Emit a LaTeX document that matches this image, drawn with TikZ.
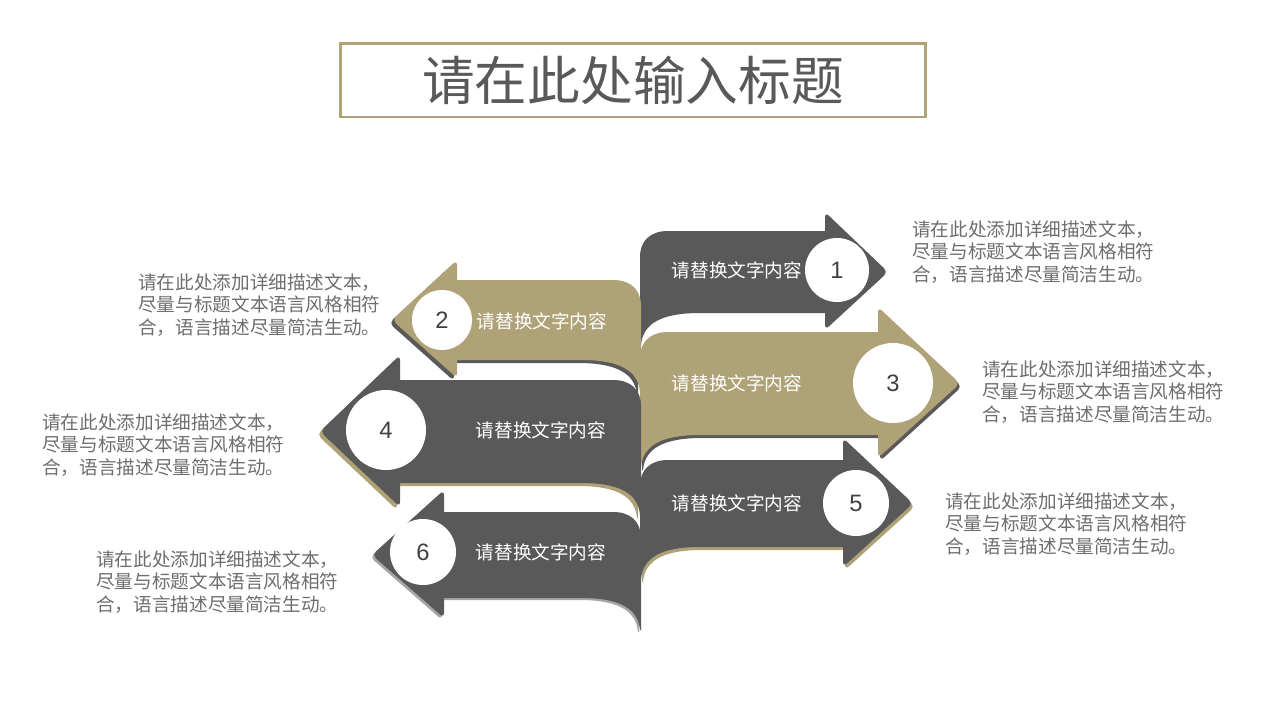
\documentclass[tikz,border=0pt]{standalone}
\usepackage{fontspec}
\setmainfont{Noto Sans CJK SC}
\newfontfamily\numfont{Liberation Sans}
\definecolor{dk}{HTML}{595959}
\definecolor{khaki}{HTML}{B0A277}
\definecolor{txtgray}{HTML}{6E6E6E}
\definecolor{numgray}{HTML}{404040}
\definecolor{shgray}{HTML}{A6A6A6}
\tikzset{
  lbl/.style={text=white, font=\fontsize{10.6}{12}\selectfont, inner sep=0pt},
  desc/.style={text=txtgray, font=\fontsize{10.6}{13}\selectfont, align=left, anchor=north west, inner sep=0pt},
  numc/.style={circle, fill=white, text=numgray, font=\numfont\fontsize{13.5}{14}\selectfont, inner sep=0pt},
  titlebox/.style={draw=khaki, line width=1.7pt, fill=white, text=dk, font=\fontsize{30}{32}\selectfont,
    minimum width=11.72cm, minimum height=1.48cm, inner sep=0pt},
}
% right-pointing arrow: #1 top, #2 bottom, #3 head x, #4 head top, #5 tip x, #6 head bottom
\newcommand{\rpath}[6]{(640,#1+26) .. controls (640,#1+10) and (650,#1) .. (668,#1) -- (#3,#1) [rounded corners=3] -- (#3,#4) -- (#5,{(#1+#2)/2}) -- (#3,#6) [sharp corners] -- (#3,#2) -- (700,#2) .. controls (662,#2) and (643,#2+10) .. (641,#2+32) -- (640,#2+32) -- cycle}
% left-pointing arrow
\newcommand{\lpath}[6]{(641,#1+26) .. controls (641,#1+10) and (631,#1) .. (613,#1) -- (#3,#1) [rounded corners=3] -- (#3,#4) -- (#5,{(#1+#2)/2}) -- (#3,#6) [sharp corners] -- (#3,#2) -- (581,#2) .. controls (619,#2) and (638,#2+10) .. (640,#2+32) -- (641,#2+32) -- cycle}
\begin{document}
\begin{tikzpicture}[x=0.02cm,y=-0.02cm]
\useasboundingbox[fill=white] (0,0) rectangle (1280,720);

\node[titlebox] (title) at (633,80) {请在此处输入标题};

% arrow 1
\fill[dk] \rpath{231}{313}{825}{212}{888}{330};
% arrow 2
\fill[dk, shift={(-3,3)}] \lpath{280}{360}{457}{260}{392}{378};
\fill[khaki] \lpath{280}{360}{457}{260}{392}{378};
% arrow 3
\fill[dk, shift={(2,3)}] \rpath{332}{435}{878}{307}{960}{458};
\fill[khaki] \rpath{332}{435}{878}{307}{960}{458};
% arrow 4
\fill[khaki, shift={(-3,3)}] \lpath{380}{483}{400}{355}{320}{507};
\fill[dk] \lpath{380}{483}{400}{355}{320}{507};
% arrow 5
\fill[khaki, shift={(2,3)}] \rpath{460}{547}{843}{438}{913}{567};
\fill[dk] \rpath{460}{547}{843}{438}{913}{567};
% arrow 6
\fill[shgray, shift={(-2,2)}] \lpath{512}{598}{444}{490}{372}{618};
\fill[dk] \lpath{512}{598}{444}{490}{372}{618};

% circles
\node[numc, minimum size=1.28cm] (c1) at (837,270) {1};
\node[numc, minimum size=1.2cm] (c2) at (442,320) {2};
\node[numc, minimum size=1.6cm] (c3) at (893,383) {3};
\node[numc, minimum size=1.6cm] (c4) at (386,430) {4};
\node[numc, minimum size=1.32cm] (c5) at (856,503) {5};
\node[numc, minimum size=1.32cm] (c6) at (423,552) {6};

% labels
\node[lbl] (l1) at (737,270) {请替换文字内容};
\node[lbl] (l2) at (542,321) {请替换文字内容};
\node[lbl] (l3) at (737,383) {请替换文字内容};
\node[lbl] (l4) at (541,430) {请替换文字内容};
\node[lbl] (l5) at (737,503) {请替换文字内容};
\node[lbl] (l6) at (541,552) {请替换文字内容};

% descriptions
\node[desc] (d1) at (912,220) {请在此处添加详细描述文本，\\尽量与标题文本语言风格相符\\合，语言描述尽量简洁生动。};
\node[desc] (d2) at (138,273) {请在此处添加详细描述文本，\\尽量与标题文本语言风格相符\\合，语言描述尽量简洁生动。};
\node[desc] (d3) at (982,360) {请在此处添加详细描述文本，\\尽量与标题文本语言风格相符\\合，语言描述尽量简洁生动。};
\node[desc] (d4) at (42,413) {请在此处添加详细描述文本，\\尽量与标题文本语言风格相符\\合，语言描述尽量简洁生动。};
\node[desc] (d5) at (945,492) {请在此处添加详细描述文本，\\尽量与标题文本语言风格相符\\合，语言描述尽量简洁生动。};
\node[desc] (d6) at (96,550) {请在此处添加详细描述文本，\\尽量与标题文本语言风格相符\\合，语言描述尽量简洁生动。};
\end{tikzpicture}
\end{document}
